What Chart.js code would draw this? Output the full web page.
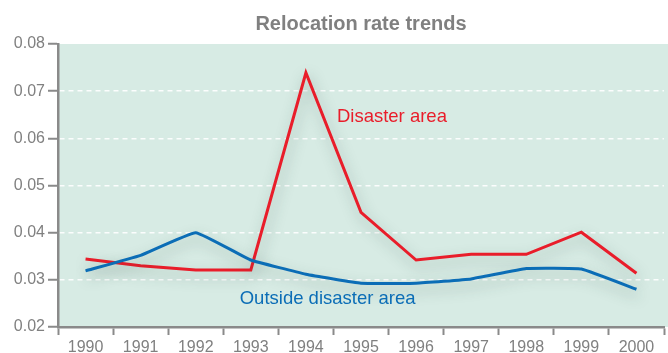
<!DOCTYPE html>
<html>
<head>
<meta charset="utf-8">
<script src="https://cdn.jsdelivr.net/npm/chart.js@4/dist/chart.umd.min.js"></script>
<style>
  html, body { margin: 0; padding: 0; background: #fff; }
  #wrap { width: 668px; height: 353px; }
</style>
</head>
<body>
<div id="wrap"><canvas id="myChart" width="668" height="353"></canvas></div>
<script>
var years = ["1990", "1991", "1992", "1993", "1994", "1995", "1996", "1997", "1998", "1999", "2000"];
var disasterArea = [0.0344, 0.0330, 0.0321, 0.0321, 0.0739, 0.0443, 0.0342, 0.0354, 0.0354, 0.0401, 0.0314];
var outsideArea = [0.0319, 0.0352, 0.0400, 0.0342, 0.0312, 0.0293, 0.0293, 0.0302, 0.0324, 0.0323, 0.0280];
var yTicks = [0.02, 0.03, 0.04, 0.05, 0.06, 0.07, 0.08];

var red = "#e91d2a";
var blue = "#0b6db6";
var gray = "#8a8a8a";
var textGray = "#808080";

// light green panel behind the plot
var panelPlugin = {
  id: 'panel',
  beforeDraw: function(chart) {
    var ctx = chart.ctx, a = chart.chartArea;
    ctx.save();
    ctx.fillStyle = "#d7ebe4";
    ctx.fillRect(a.left, a.top, chart.width - a.left, a.bottom - a.top);
    ctx.restore();
  }
};

// soft shadow under the lines
var shadowPlugin = {
  id: 'lineShadow',
  beforeDatasetDraw: function(chart) {
    var ctx = chart.ctx;
    ctx.save();
    ctx.shadowColor = "rgba(40,70,60,0.35)";
    ctx.shadowBlur = 14;
    ctx.shadowOffsetX = 2;
    ctx.shadowOffsetY = 6;
  },
  afterDatasetDraw: function(chart) {
    chart.ctx.restore();
  }
};

// series names written next to the lines
var labelPlugin = {
  id: 'seriesLabels',
  afterDatasetsDraw: function(chart) {
    var ctx = chart.ctx;
    var x = chart.scales.x, y = chart.scales.y;
    ctx.save();
    ctx.font = "18.5px 'Liberation Sans', Arial, sans-serif";
    ctx.textAlign = "left";
    ctx.textBaseline = "middle";
    ctx.fillStyle = red;
    ctx.fillText("Disaster area", x.getPixelForValue(4) + 31, y.getPixelForValue(0.0645));
    ctx.fillStyle = blue;
    ctx.fillText("Outside disaster area", x.getPixelForValue(2) + 44, y.getPixelForValue(0.0259));
    ctx.restore();
  }
};

var data = {
  labels: years,
  datasets: [
    {
      label: "Outside disaster area",
      data: outsideArea,
      borderColor: blue,
      borderWidth: 3,
      pointRadius: 0,
      tension: 0.1,
      fill: false
    },
    {
      label: "Disaster area",
      data: disasterArea,
      borderColor: red,
      borderWidth: 3,
      pointRadius: 0,
      tension: 0,
      fill: false
    }
  ]
};

var options = {
  responsive: false,
  animation: false,
  layout: { padding: { top: 0, right: 4, bottom: 0, left: 0 } },
  plugins: {
    legend: { display: false },
    tooltip: { enabled: false },
    title: {
      display: true,
      fullSize: false,
      text: "Relocation rate trends",
      color: textGray,
      font: { family: "'Liberation Sans', Arial, sans-serif", size: 20, weight: 'bold' },
      padding: { top: 12, bottom: 8 }
    }
  },
  scales: {
    x: {
      offset: true,
      grid: {
        offset: true,
        drawOnChartArea: false,
        tickLength: 8,
        tickColor: gray,
        tickWidth: 2
      },
      border: { display: true, color: gray, width: 2.5 },
      ticks: {
        color: textGray,
        padding: 3,
        maxRotation: 0,
        autoSkip: false,
        font: { family: "'Liberation Sans', Arial, sans-serif", size: 16 }
      },
      afterFit: function(scale) { scale.height = 26; }
    },
    y: {
      min: 0.02,
      max: 0.08,
      afterBuildTicks: function(scale) {
        scale.ticks = yTicks.map(function(v) { return { value: v }; });
      },
      grid: {
        color: function(c) {
          var v = c.tick ? c.tick.value : 0;
          return (v > 0.021 && v < 0.079) ? "rgba(255,255,255,0.9)" : "rgba(0,0,0,0)";
        },
        lineWidth: 1.5,
        tickLength: 10,
        tickColor: gray,
        tickWidth: 2
      },
      border: { display: true, color: gray, width: 2.5, dash: [5, 4] },
      ticks: {
        color: textGray,
        padding: 3,
        font: { family: "'Liberation Sans', Arial, sans-serif", size: 16 },
        callback: function(v) { return Number(v).toFixed(2); }
      },
      afterFit: function(scale) { scale.width = 58; }
    }
  }
};

var ctx = document.getElementById("myChart").getContext("2d");
var myChart = new Chart(ctx, {
  type: 'line',
  data: data,
  options: options,
  plugins: [panelPlugin, shadowPlugin, labelPlugin]
});
</script>
</body>
</html>
